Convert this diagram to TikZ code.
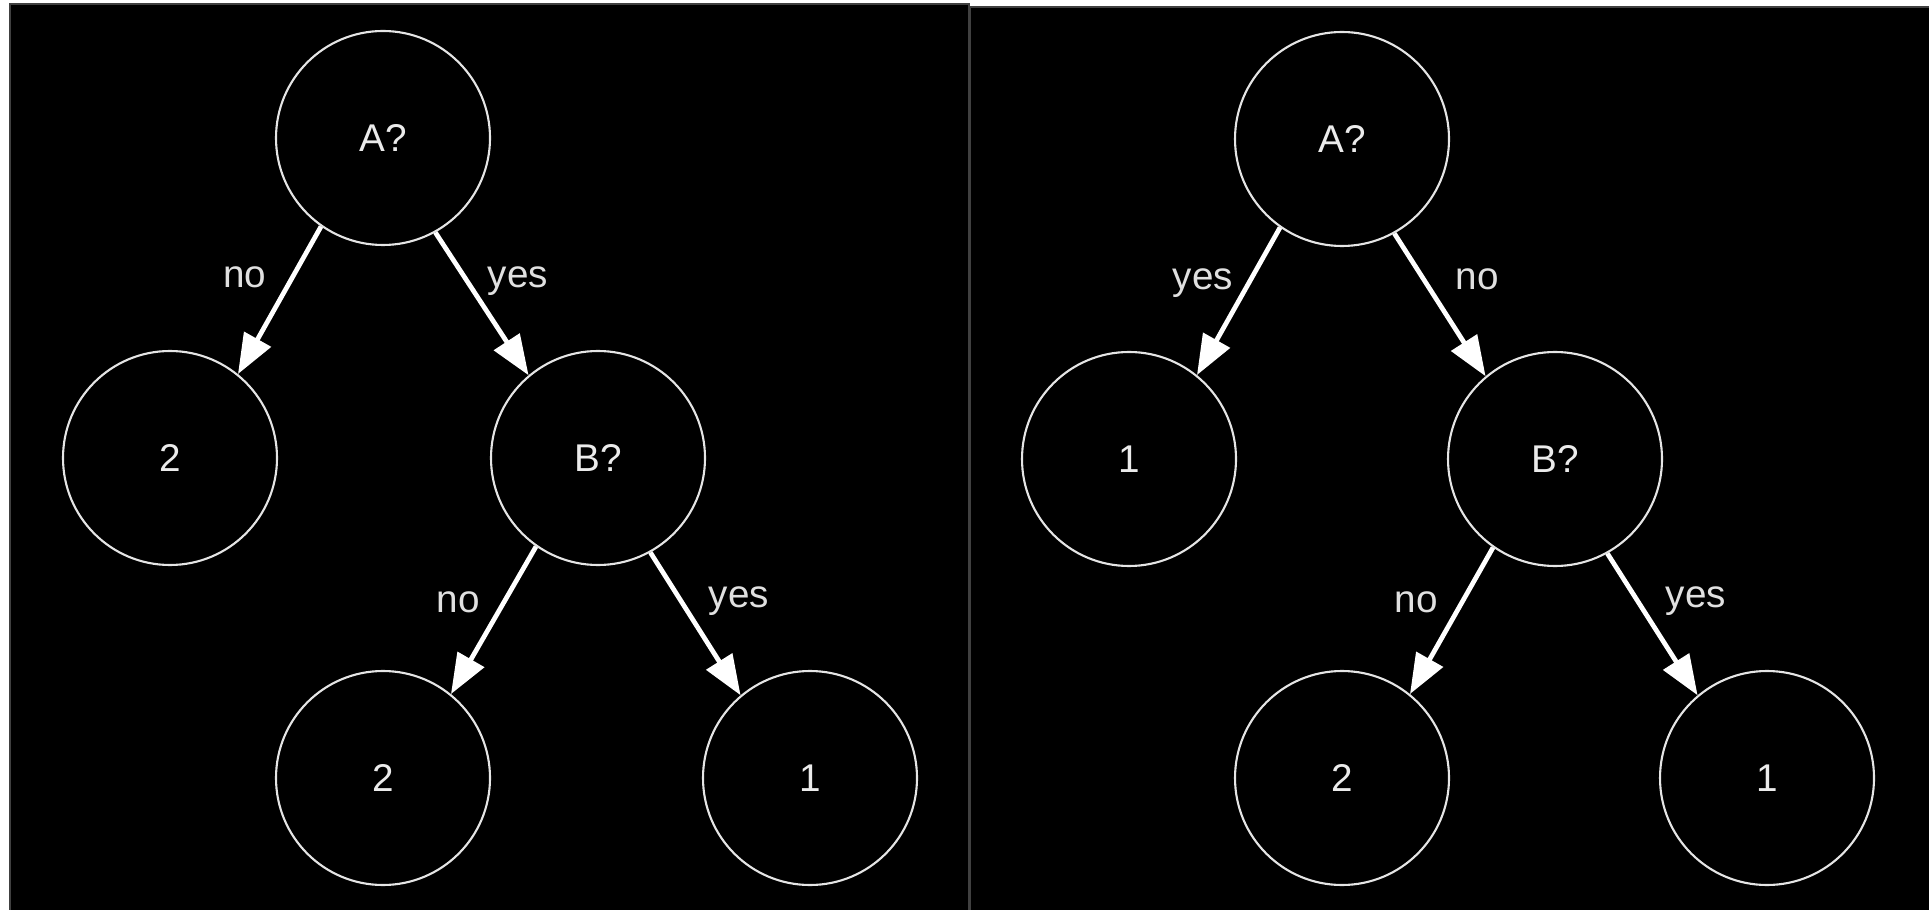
\documentclass[tikz,border=0pt]{standalone}
\usepackage{fontspec}
\setmainfont{Liberation Sans}
\usetikzlibrary{arrows.meta}

\begin{document}
\begin{tikzpicture}[
        state/.style={circle,draw=white!90!black,line width=0.6pt,minimum size=2.14cm,inner sep=0pt,text=white!92!black,font=\fontsize{11}{13}\selectfont},
        branch/.style={draw=white,line width=1.35pt,-{Triangle[length=0.4cm,width=0.3cm]}},
        answer/.style={text=white!88!black,font=\fontsize{11}{13}\selectfont}
    ]
        \useasboundingbox[fill=white] (0,0) rectangle (19.29,9.09);
        % the two panels
        \filldraw[draw=black!75,fill=black,line width=0.6pt] (0.1,-0.1) rectangle (9.69,9.05);
        \filldraw[draw=black!75,fill=black,line width=0.6pt] (9.70,-0.1) rectangle (19.4,9.02);

        % left tree
        \node[state] (a1) at (3.83,7.71) {A?};
        \node[state] (l2) at (1.70,4.51) {2};
        \node[state] (b1) at (5.98,4.51) {B?};
        \node[state] (c2) at (3.83,1.31) {2};
        \node[state] (c1) at (8.10,1.31) {1};
        \draw[branch] (a1.235) -- (l2.51);
        \draw[branch] (a1.299) -- (b1.130);
        \draw[branch] (b1.235) -- (c2.51);
        \draw[branch] (b1.299) -- (c1.130);
        \node[answer] (a1no) at (2.45,6.32) {no};
        \node[answer] (a1yes) at (5.18,6.28) {yes};
        \node[answer] (b1no) at (4.58,3.07) {no};
        \node[answer] (b1yes) at (7.39,3.08) {yes};

        % right tree
        \node[state] (a2) at (13.42,7.70) {A?};
        \node[state] (r1) at (11.29,4.50) {1};
        \node[state] (b2) at (15.55,4.50) {B?};
        \node[state] (d2) at (13.42,1.31) {2};
        \node[state] (d1) at (17.67,1.31) {1};
        \draw[branch] (a2.235) -- (r1.51);
        \draw[branch] (a2.299) -- (b2.130);
        \draw[branch] (b2.235) -- (d2.51);
        \draw[branch] (b2.299) -- (d1.130);
        \node[answer] (a2yes) at (12.03,6.26) {yes};
        \node[answer] (a2no) at (14.77,6.30) {no};
        \node[answer] (b2no) at (14.16,3.07) {no};
        \node[answer] (b2yes) at (16.96,3.08) {yes};
    \end{tikzpicture}
\end{document}
